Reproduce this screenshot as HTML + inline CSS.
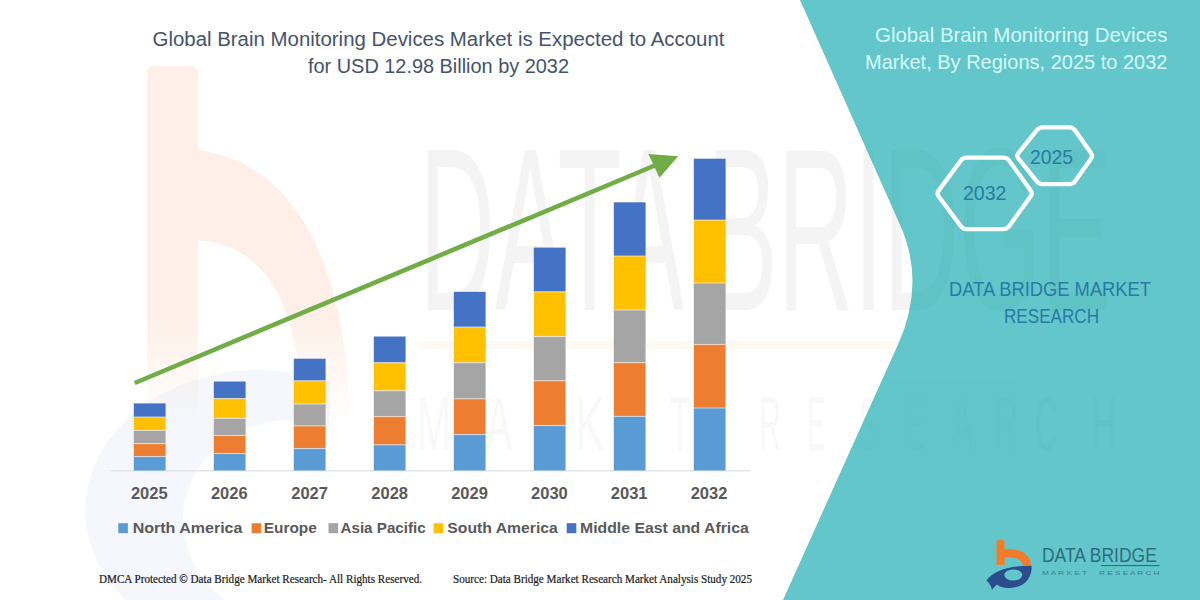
<!DOCTYPE html>
<html><head><meta charset="utf-8">
<style>
html,body{margin:0;padding:0;background:#fff;}
body{width:1200px;height:600px;overflow:hidden;position:relative;font-family:"Liberation Sans",sans-serif;}
svg{position:absolute;left:0;top:0;}
</style></head>
<body>
<svg width="1200" height="600" viewBox="0 0 1200 600">
  <rect x="0" y="0" width="1200" height="600" fill="#ffffff"/>
  <defs>
    <linearGradient id="bFade" gradientUnits="userSpaceOnUse" x1="0" y1="60" x2="0" y2="420">
      <stop offset="0" stop-color="#F0803C" stop-opacity="0.12"/>
      <stop offset="0.72" stop-color="#F0803C" stop-opacity="0.12"/>
      <stop offset="1" stop-color="#F0803C" stop-opacity="0"/>
    </linearGradient>
    <clipPath id="ringClip"><rect x="0" y="340" width="330" height="260"/></clipPath>
    <clipPath id="tealClip"><path d="M800,0 L1200,0 L1200,600 L783,600 L897.75,345 Q926,283 900.1,225 Z"/></clipPath>
  </defs>
  <!-- watermark (white area) -->
  <path d="M147,420 L147,74 Q147,66 155,66 L190,66 Q198,66 198,74 L198,150 C275,160 345,230 350,420 L302,420 C300,300 265,246 198,240 L198,420 Z" fill="url(#bFade)"/>
  <g clip-path="url(#ringClip)"><path d="M85,510 A175,140 0 1,1 435,510 A175,140 0 1,1 85,510 Z M183,520 A107,100 0 1,0 397,520 A107,100 0 1,0 183,520 Z" fill="#5B7FC4" fill-opacity="0.06" fill-rule="evenodd"/></g>
  <rect x="420" y="341" width="720" height="8" fill="#F5B080" fill-opacity="0.08"/>
  <g font-family="Liberation Sans" fill="#B0B0B0" fill-opacity="0.14">
      <text x="419" y="310" font-size="232" textLength="692" lengthAdjust="spacingAndGlyphs">DATA BRIDGE</text>
      <g font-size="76" opacity="0.6"><text x="417" y="450" textLength="34" lengthAdjust="spacingAndGlyphs">M</text><text x="486" y="450" textLength="26" lengthAdjust="spacingAndGlyphs">A</text><text x="537" y="450" textLength="24" lengthAdjust="spacingAndGlyphs">R</text><text x="575" y="450" textLength="30" lengthAdjust="spacingAndGlyphs">K</text><text x="618" y="450" textLength="22" lengthAdjust="spacingAndGlyphs">E</text><text x="670" y="450" textLength="20" lengthAdjust="spacingAndGlyphs">T</text><text x="759" y="450" textLength="22" lengthAdjust="spacingAndGlyphs">R</text><text x="807" y="450" textLength="18" lengthAdjust="spacingAndGlyphs">E</text><text x="859" y="450" textLength="18" lengthAdjust="spacingAndGlyphs">S</text><text x="907" y="450" textLength="18" lengthAdjust="spacingAndGlyphs">E</text><text x="951" y="450" textLength="22" lengthAdjust="spacingAndGlyphs">A</text><text x="995" y="450" textLength="22" lengthAdjust="spacingAndGlyphs">R</text><text x="1035" y="450" textLength="22" lengthAdjust="spacingAndGlyphs">C</text><text x="1091" y="450" textLength="26" lengthAdjust="spacingAndGlyphs">H</text></g>
    </g>
  <!-- teal panel -->
  <path d="M800,0 L1200,0 L1200,600 L783,600 L897.75,345 Q926,283 900.1,225 Z" fill="#62C6CA"/>
  <g clip-path="url(#tealClip)">
    <g font-family="Liberation Sans" fill="#1E5A60" fill-opacity="0.035">
      <text x="419" y="310" font-size="232" textLength="692" lengthAdjust="spacingAndGlyphs">DATA BRIDGE</text>
      <g font-size="76" opacity="0.6"><text x="417" y="450" textLength="34" lengthAdjust="spacingAndGlyphs">M</text><text x="486" y="450" textLength="26" lengthAdjust="spacingAndGlyphs">A</text><text x="537" y="450" textLength="24" lengthAdjust="spacingAndGlyphs">R</text><text x="575" y="450" textLength="30" lengthAdjust="spacingAndGlyphs">K</text><text x="618" y="450" textLength="22" lengthAdjust="spacingAndGlyphs">E</text><text x="670" y="450" textLength="20" lengthAdjust="spacingAndGlyphs">T</text><text x="759" y="450" textLength="22" lengthAdjust="spacingAndGlyphs">R</text><text x="807" y="450" textLength="18" lengthAdjust="spacingAndGlyphs">E</text><text x="859" y="450" textLength="18" lengthAdjust="spacingAndGlyphs">S</text><text x="907" y="450" textLength="18" lengthAdjust="spacingAndGlyphs">E</text><text x="951" y="450" textLength="22" lengthAdjust="spacingAndGlyphs">A</text><text x="995" y="450" textLength="22" lengthAdjust="spacingAndGlyphs">R</text><text x="1035" y="450" textLength="22" lengthAdjust="spacingAndGlyphs">C</text><text x="1091" y="450" textLength="26" lengthAdjust="spacingAndGlyphs">H</text></g>
    </g>
  </g>

  <!-- title -->
  <g font-family="Liberation Sans" fill="#44546A" font-size="19.6" text-anchor="middle">
    <text x="438.5" y="46.3" textLength="572" lengthAdjust="spacingAndGlyphs">Global Brain Monitoring Devices Market is Expected to Account</text>
    <text x="438.5" y="73.3" textLength="261" lengthAdjust="spacingAndGlyphs">for USD 12.98 Billion by 2032</text>
  </g>

  <!-- axis -->
  <line x1="110" y1="470.8" x2="750" y2="470.8" stroke="#D9D9D9" stroke-width="1"/>

  <!-- bars -->
  <g id="bars">
<rect x="133.8" y="403.40" width="31.8" height="13.60" fill="#4472C4"/>
<rect x="133.8" y="417.00" width="31.8" height="13.40" fill="#FFC000"/>
<rect x="133.8" y="430.40" width="31.8" height="13.20" fill="#A5A5A5"/>
<rect x="133.8" y="443.60" width="31.8" height="12.90" fill="#ED7D31"/>
<rect x="133.8" y="456.50" width="31.8" height="14.00" fill="#5B9BD5"/>
<rect x="133.8" y="416.40" width="31.8" height="1.2" fill="#fff" fill-opacity="0.5"/>
<rect x="133.8" y="429.80" width="31.8" height="1.2" fill="#fff" fill-opacity="0.5"/>
<rect x="133.8" y="443.00" width="31.8" height="1.2" fill="#fff" fill-opacity="0.5"/>
<rect x="133.8" y="455.90" width="31.8" height="1.2" fill="#fff" fill-opacity="0.5"/>
<rect x="213.8" y="381.50" width="31.8" height="17.10" fill="#4472C4"/>
<rect x="213.8" y="398.60" width="31.8" height="19.80" fill="#FFC000"/>
<rect x="213.8" y="418.40" width="31.8" height="17.10" fill="#A5A5A5"/>
<rect x="213.8" y="435.50" width="31.8" height="18.00" fill="#ED7D31"/>
<rect x="213.8" y="453.50" width="31.8" height="17.00" fill="#5B9BD5"/>
<rect x="213.8" y="398.00" width="31.8" height="1.2" fill="#fff" fill-opacity="0.5"/>
<rect x="213.8" y="417.80" width="31.8" height="1.2" fill="#fff" fill-opacity="0.5"/>
<rect x="213.8" y="434.90" width="31.8" height="1.2" fill="#fff" fill-opacity="0.5"/>
<rect x="213.8" y="452.90" width="31.8" height="1.2" fill="#fff" fill-opacity="0.5"/>
<rect x="293.8" y="358.70" width="31.8" height="22.10" fill="#4472C4"/>
<rect x="293.8" y="380.80" width="31.8" height="23.20" fill="#FFC000"/>
<rect x="293.8" y="404.00" width="31.8" height="21.90" fill="#A5A5A5"/>
<rect x="293.8" y="425.90" width="31.8" height="22.60" fill="#ED7D31"/>
<rect x="293.8" y="448.50" width="31.8" height="22.00" fill="#5B9BD5"/>
<rect x="293.8" y="380.20" width="31.8" height="1.2" fill="#fff" fill-opacity="0.5"/>
<rect x="293.8" y="403.40" width="31.8" height="1.2" fill="#fff" fill-opacity="0.5"/>
<rect x="293.8" y="425.30" width="31.8" height="1.2" fill="#fff" fill-opacity="0.5"/>
<rect x="293.8" y="447.90" width="31.8" height="1.2" fill="#fff" fill-opacity="0.5"/>
<rect x="373.8" y="336.50" width="31.8" height="26.20" fill="#4472C4"/>
<rect x="373.8" y="362.70" width="31.8" height="28.00" fill="#FFC000"/>
<rect x="373.8" y="390.70" width="31.8" height="25.80" fill="#A5A5A5"/>
<rect x="373.8" y="416.50" width="31.8" height="28.30" fill="#ED7D31"/>
<rect x="373.8" y="444.80" width="31.8" height="25.70" fill="#5B9BD5"/>
<rect x="373.8" y="362.10" width="31.8" height="1.2" fill="#fff" fill-opacity="0.5"/>
<rect x="373.8" y="390.10" width="31.8" height="1.2" fill="#fff" fill-opacity="0.5"/>
<rect x="373.8" y="415.90" width="31.8" height="1.2" fill="#fff" fill-opacity="0.5"/>
<rect x="373.8" y="444.20" width="31.8" height="1.2" fill="#fff" fill-opacity="0.5"/>
<rect x="453.8" y="291.80" width="31.8" height="35.20" fill="#4472C4"/>
<rect x="453.8" y="327.00" width="31.8" height="35.60" fill="#FFC000"/>
<rect x="453.8" y="362.60" width="31.8" height="36.20" fill="#A5A5A5"/>
<rect x="453.8" y="398.80" width="31.8" height="35.70" fill="#ED7D31"/>
<rect x="453.8" y="434.50" width="31.8" height="36.00" fill="#5B9BD5"/>
<rect x="453.8" y="326.40" width="31.8" height="1.2" fill="#fff" fill-opacity="0.5"/>
<rect x="453.8" y="362.00" width="31.8" height="1.2" fill="#fff" fill-opacity="0.5"/>
<rect x="453.8" y="398.20" width="31.8" height="1.2" fill="#fff" fill-opacity="0.5"/>
<rect x="453.8" y="433.90" width="31.8" height="1.2" fill="#fff" fill-opacity="0.5"/>
<rect x="533.8" y="247.60" width="31.8" height="44.20" fill="#4472C4"/>
<rect x="533.8" y="291.80" width="31.8" height="44.70" fill="#FFC000"/>
<rect x="533.8" y="336.50" width="31.8" height="44.20" fill="#A5A5A5"/>
<rect x="533.8" y="380.70" width="31.8" height="44.80" fill="#ED7D31"/>
<rect x="533.8" y="425.50" width="31.8" height="45.00" fill="#5B9BD5"/>
<rect x="533.8" y="291.20" width="31.8" height="1.2" fill="#fff" fill-opacity="0.5"/>
<rect x="533.8" y="335.90" width="31.8" height="1.2" fill="#fff" fill-opacity="0.5"/>
<rect x="533.8" y="380.10" width="31.8" height="1.2" fill="#fff" fill-opacity="0.5"/>
<rect x="533.8" y="424.90" width="31.8" height="1.2" fill="#fff" fill-opacity="0.5"/>
<rect x="613.8" y="202.30" width="31.8" height="53.70" fill="#4472C4"/>
<rect x="613.8" y="256.00" width="31.8" height="54.00" fill="#FFC000"/>
<rect x="613.8" y="310.00" width="31.8" height="52.60" fill="#A5A5A5"/>
<rect x="613.8" y="362.60" width="31.8" height="53.80" fill="#ED7D31"/>
<rect x="613.8" y="416.40" width="31.8" height="54.10" fill="#5B9BD5"/>
<rect x="613.8" y="255.40" width="31.8" height="1.2" fill="#fff" fill-opacity="0.5"/>
<rect x="613.8" y="309.40" width="31.8" height="1.2" fill="#fff" fill-opacity="0.5"/>
<rect x="613.8" y="362.00" width="31.8" height="1.2" fill="#fff" fill-opacity="0.5"/>
<rect x="613.8" y="415.80" width="31.8" height="1.2" fill="#fff" fill-opacity="0.5"/>
<rect x="693.8" y="158.70" width="31.8" height="61.40" fill="#4472C4"/>
<rect x="693.8" y="220.10" width="31.8" height="62.90" fill="#FFC000"/>
<rect x="693.8" y="283.00" width="31.8" height="61.50" fill="#A5A5A5"/>
<rect x="693.8" y="344.50" width="31.8" height="63.50" fill="#ED7D31"/>
<rect x="693.8" y="408.00" width="31.8" height="62.50" fill="#5B9BD5"/>
<rect x="693.8" y="219.50" width="31.8" height="1.2" fill="#fff" fill-opacity="0.5"/>
<rect x="693.8" y="282.40" width="31.8" height="1.2" fill="#fff" fill-opacity="0.5"/>
<rect x="693.8" y="343.90" width="31.8" height="1.2" fill="#fff" fill-opacity="0.5"/>
<rect x="693.8" y="407.40" width="31.8" height="1.2" fill="#fff" fill-opacity="0.5"/>
</g>

  <!-- arrow -->
  <g fill="#70AD47" stroke="none">
    <line x1="134.7" y1="383" x2="656" y2="165" stroke="#70AD47" stroke-width="4.6"/>
    <path d="M648.4,153.9 L678.2,156.3 L659.5,177.8 Z"/>
  </g>

  <!-- year labels -->
  <g font-family="Liberation Sans" font-weight="bold" fill="#595959" font-size="16.5" text-anchor="middle">
    <text x="149.3" y="498.8">2025</text>
    <text x="229.3" y="498.8">2026</text>
    <text x="309.6" y="498.8">2027</text>
    <text x="389.7" y="498.8">2028</text>
    <text x="469.5" y="498.8">2029</text>
    <text x="549.4" y="498.8">2030</text>
    <text x="629.2" y="498.8">2031</text>
    <text x="709" y="498.8">2032</text>
  </g>

  <!-- legend -->
  <g font-family="Liberation Sans" font-weight="bold" fill="#595959" font-size="15">
    <rect x="118.3" y="523.2" width="9.6" height="10" fill="#5B9BD5"/>
    <text x="132.7" y="532.5" textLength="109.7" lengthAdjust="spacingAndGlyphs">North America</text>
    <rect x="251.6" y="523.2" width="9.6" height="10" fill="#ED7D31"/>
    <text x="263.8" y="532.5" textLength="53" lengthAdjust="spacingAndGlyphs">Europe</text>
    <rect x="328.5" y="523.2" width="9.6" height="10" fill="#A5A5A5"/>
    <text x="340.5" y="532.5" textLength="85.2" lengthAdjust="spacingAndGlyphs">Asia Pacific</text>
    <rect x="433.6" y="523.2" width="9.6" height="10" fill="#FFC000"/>
    <text x="447.3" y="532.5" textLength="110.5" lengthAdjust="spacingAndGlyphs">South America</text>
    <rect x="566.7" y="523.2" width="9.6" height="10" fill="#4472C4"/>
    <text x="580" y="532.5" textLength="168.8" lengthAdjust="spacingAndGlyphs">Middle East and Africa</text>
  </g>

  <!-- footer -->
  <g font-family="Liberation Serif" fill="#1a1a1a" stroke="#1a1a1a" stroke-width="0.2" font-size="11.5">
    <text x="99" y="583" textLength="323" lengthAdjust="spacingAndGlyphs">DMCA Protected © Data Bridge Market Research-  All Rights Reserved.</text>
    <text x="453" y="583" textLength="299" lengthAdjust="spacingAndGlyphs">Source: Data Bridge Market Research  Market Analysis Study 2025</text>
  </g>

  <!-- right panel title -->
  <g font-family="Liberation Sans" fill="#D6FAFA" font-size="20.3" text-anchor="end">
    <text x="1167.5" y="41.7" textLength="292.5" lengthAdjust="spacingAndGlyphs">Global Brain Monitoring Devices</text>
    <text x="1167.5" y="68.5" textLength="302.5" lengthAdjust="spacingAndGlyphs">Market, By Regions, 2025 to 2032</text>
  </g>

  <!-- hexagons -->
  <g fill="none" stroke="#ffffff" stroke-width="4.3" stroke-linejoin="round">
    <path d="M938.6,196.2 Q936.5,193.4 938.6,190.6 L960.9,160.5 Q963.0,157.7 966.5,157.7 L1003.5,157.7 Q1007.0,157.7 1009.1,160.5 L1030.7,190.6 Q1032.8,193.4 1030.7,196.2 L1009.1,226.3 Q1007.0,229.1 1003.5,229.1 L966.5,229.1 Q963.0,229.1 960.9,226.3 Z"/>
    <path d="M1018.4,158.5 Q1016.2,155.8 1018.4,153.1 L1036.8,130.1 Q1039.0,127.4 1042.5,127.4 L1069.5,127.4 Q1073.0,127.4 1075.0,130.3 L1091.0,152.9 Q1093.0,155.8 1091.0,158.7 L1075.0,181.2 Q1073.0,184.1 1069.5,184.1 L1042.5,184.1 Q1039.0,184.1 1036.8,181.4 Z"/>
  </g>
  <g font-family="Liberation Sans" fill="#2A7AA4" font-size="20.8" text-anchor="middle">
    <text x="984.7" y="200.3" textLength="43.5" lengthAdjust="spacingAndGlyphs">2032</text>
    <text x="1051.6" y="164.4" textLength="43" lengthAdjust="spacingAndGlyphs">2025</text>
  </g>

  <!-- DBMR text -->
  <g font-family="Liberation Sans" fill="#2A7AA4" font-size="20.5" text-anchor="middle">
    <text x="1050" y="296" textLength="202" lengthAdjust="spacingAndGlyphs">DATA BRIDGE MARKET</text>
    <text x="1051.5" y="323" textLength="95" lengthAdjust="spacingAndGlyphs">RESEARCH</text>
  </g>

  <!-- logo -->
  <g id="logo">
    <path d="M996.5,565 L996.5,543 Q996.5,539.5 1000.5,539.5 Q1004.5,539.5 1004.5,543 L1004.5,549.3 C1019,547.5 1030.5,554 1031,565 L1023,565 C1022,559.5 1015,556.5 1004.5,557.3 L1004.5,565 Z" fill="#F47B2A"/>
    <path d="M986.5,580.5 C993,570 1014,565 1031.5,565.8 C1032.5,578 1024,588 1009,588 C1003,588 999,586.5 997,584.5 C995,586 993,588.5 992,590 C991.5,586.5 989.5,583 986.5,580.5 Z" fill="#2B4D8E"/>
    <ellipse cx="1013.3" cy="575" rx="9" ry="5.6" fill="#62C6CA"/>
    <text x="1042" y="562.2" font-family="Liberation Sans" font-size="20" fill="#2E6E80" textLength="114.8" lengthAdjust="spacingAndGlyphs">DATA BRIDGE</text>
    <rect x="1101" y="565" width="58.5" height="1.1" fill="#2E6E80"/>
    <text x="1042" y="574.7" font-family="Liberation Sans" font-size="6" fill="#3C7F8E" textLength="45" lengthAdjust="spacingAndGlyphs">M A R K E T</text>
    <text x="1099" y="574.7" font-family="Liberation Sans" font-size="6" fill="#3C7F8E" textLength="60.5" lengthAdjust="spacingAndGlyphs">R E S E A R C H</text>
  </g>
</svg>
</body></html>
